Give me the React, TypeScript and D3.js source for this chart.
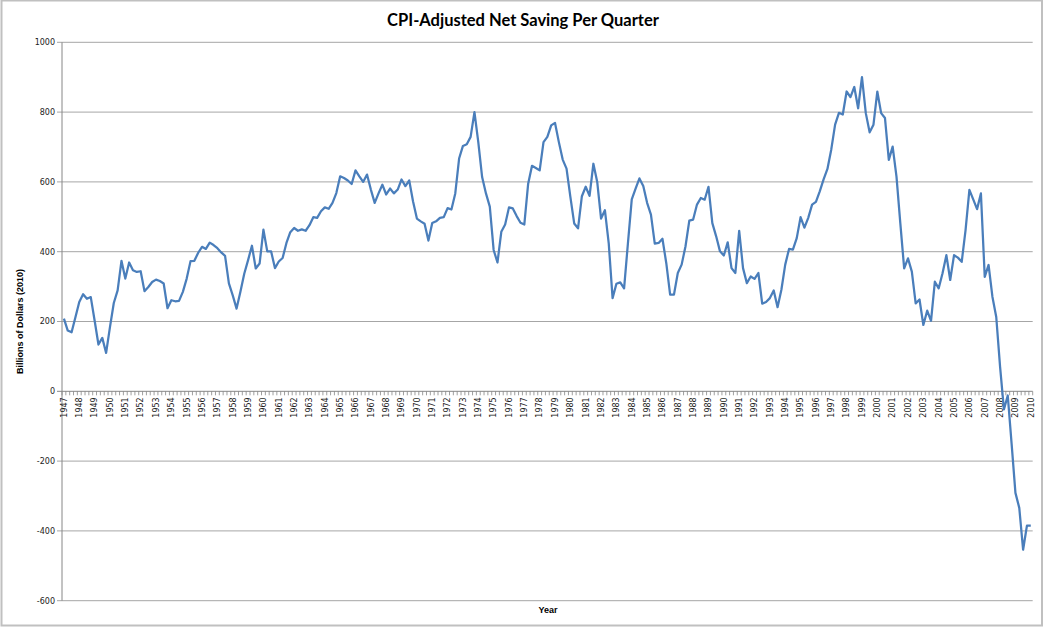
import React from "react";
import * as d3 from "d3";

// Quarterly net saving, billions of 2010 dollars
const START_YEAR = 1947;
const saving1940s = [
  208, 174, 169, 212, 256, 278, 265, 270, 203, 134, 153, 110,
];
const saving1950s = [
  184, 253, 289, 374, 323, 369, 347, 342, 344, 287, 299, 313,
  320, 316, 309, 238, 261, 258, 259, 285, 323, 373, 374, 397,
  414, 408, 426, 419, 410, 398, 388, 309, 275, 237, 285, 337,
  376, 417, 352, 366,
];
const saving1960s = [
  463, 401, 401, 353, 372, 382, 425, 456, 468, 460, 464, 460,
  476, 499, 497, 516, 527, 523, 540, 568, 616, 611, 604, 594,
  633, 616, 600, 621, 578, 540, 567, 592, 564, 581, 567, 578,
  607, 588, 604, 544,
];
const saving1970s = [
  495, 487, 480, 432, 482, 487, 497, 499, 525, 521, 567, 667,
  703, 708, 729, 800, 714, 614, 567, 529, 405, 369, 457, 478,
  527, 524, 502, 483, 478, 595, 646, 640, 633, 714, 729, 762,
  769, 714, 664, 638,
];
const saving1980s = [
  557, 481, 467, 559, 586, 560, 652, 600, 495, 519, 424, 267,
  308, 312, 295, 424, 550, 581, 610, 588, 540, 506, 423, 425,
  437, 367, 277, 277, 339, 363, 415, 489, 492, 535, 554, 549,
  586, 482, 444, 401,
];
const saving1990s = [
  389, 427, 353, 339, 460, 353, 310, 329, 322, 339, 251, 256,
  267, 289, 241, 291, 363, 408, 406, 439, 499, 469, 497, 535,
  543, 573, 607, 637, 693, 764, 798, 793, 859, 843, 872, 811,
  900, 797, 742, 764,
];
const saving2000s = [
  859, 797, 783, 663, 701, 615, 481, 352, 381, 343, 252, 263,
  190, 231, 202, 314, 295, 338, 390, 319, 390, 383, 371, 462,
  577, 550, 522, 567, 328, 362, 271, 213, 70, -52, -12, -150,
  -291, -334, -454, -385,
];
const saving2010s = [-385];

const yTicks = [-600, -400, -200, 0, 200, 400, 600, 800, 1000];

const values = [
  ...saving1940s, ...saving1950s, ...saving1960s, ...saving1970s,
  ...saving1980s, ...saving1990s, ...saving2000s, ...saving2010s,
];
const quarters = values.map((_, i) => `${START_YEAR + Math.floor(i / 4)}Q${(i % 4) + 1}`);

const W = 1045;
const H = 628;
const left = 62;
const right = 1032.7;
const top = 42.3;
const bottom = 600.7;

const LINE = "#4A7EBB";
const GRID = "#a6a6a6";
const AXIS = "#868686";

export default function App() {
  const x = d3.scaleBand<string>().domain(quarters).range([left, right]).padding(0);
  const y = d3.scaleLinear().domain([-600, 1000]).range([bottom, top]);
  const cx = (q: string) => (x(q) as number) + x.bandwidth() / 2;

  const line = d3.line<number>()
    .x((_, i) => cx(quarters[i]))
    .y((d) => y(d));

  const zeroY = y(0);
  const yearLabels = quarters.filter((q) => q.endsWith("Q1"));
  const boundaries = [...quarters.map((q) => x(q) as number), right];

  return (
    <svg
      width={W}
      height={H}
      style={{ position: "absolute", left: 0, top: 0, background: "#fff" }}
    >
      <rect x={1.5} y={0.5} width={1040.5} height={625} fill="#fff" stroke="#c0c0c0" strokeWidth={2} />

      <text
        x={523}
        y={26}
        textAnchor="middle"
        fontFamily="Lato, 'Liberation Sans', sans-serif"
        fontWeight="bold"
        fontSize={16.5}
      >
        CPI-Adjusted Net Saving Per Quarter
      </text>

      {/* horizontal grid + value axis */}
      {yTicks.map((t) => (
        <g key={t}>
          <line x1={left - 5} x2={right} y1={y(t)} y2={y(t)} stroke={t === 0 ? AXIS : GRID} strokeWidth={1} />
          <text
            x={left - 7}
            y={y(t)}
            dy="0.35em"
            textAnchor="end"
            fontFamily="'DejaVu Sans', Verdana, sans-serif"
            fontSize={8}
            fill="#222"
          >
            {t}
          </text>
        </g>
      ))}
      <line x1={left} x2={left} y1={top} y2={bottom} stroke={AXIS} strokeWidth={1} />

      {/* category ticks on the zero line */}
      {boundaries.map((b, i) => (
        <line key={i} x1={b} x2={b} y1={zeroY} y2={zeroY + 4} stroke={AXIS} strokeWidth={0.8} />
      ))}
      {yearLabels.map((q) => (
        <text
          key={q}
          transform={`translate(${cx(q)},${zeroY + 6}) rotate(-90)`}
          dy="0.35em"
          textAnchor="end"
          fontFamily="'DejaVu Sans', Verdana, sans-serif"
          fontSize={8}
          fill="#222"
        >
          {q.slice(0, 4)}
        </text>
      ))}

      <path d={line(values) ?? ""} fill="none" stroke={LINE} strokeWidth={2.25} strokeLinejoin="round" />

      <text
        transform={`translate(23,${(top + bottom) / 2}) rotate(-90)`}
        textAnchor="middle"
        fontFamily="'Liberation Sans', Arial, sans-serif"
        fontWeight="bold"
        fontSize={9}
      >
        Billions of Dollars (2010)
      </text>
      <text
        x={548}
        y={613}
        textAnchor="middle"
        fontFamily="'Liberation Sans', Arial, sans-serif"
        fontWeight="bold"
        fontSize={9}
      >
        Year
      </text>
    </svg>
  );
}
